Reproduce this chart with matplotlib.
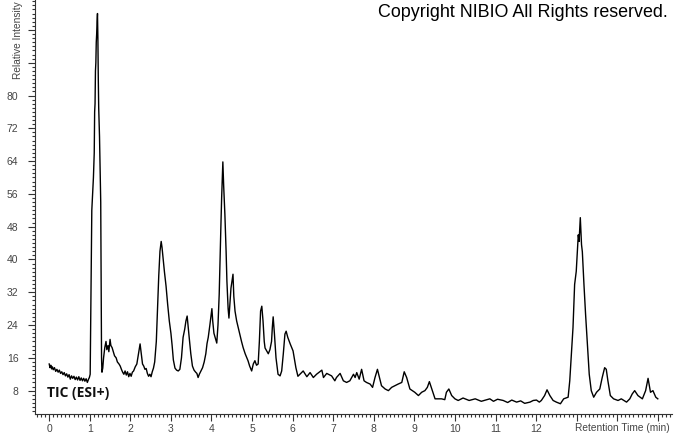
import matplotlib
matplotlib.use("Agg")
import matplotlib.pyplot as plt
from matplotlib.ticker import MultipleLocator, FuncFormatter

# TIC (ESI+) chromatogram
retention_time = [
    0.00, 0.02, 0.04, 0.06, 0.08, 0.10, 0.13, 0.16, 0.19, 0.22, 0.25, 0.28,
    0.31, 0.34, 0.37, 0.40, 0.43, 0.46, 0.49, 0.52, 0.55, 0.58, 0.61, 0.64,
    0.67, 0.70, 0.73, 0.76, 0.79, 0.82, 0.85, 0.88, 0.91, 0.94, 0.97, 0.99,
    1.01, 1.02, 1.03, 1.04, 1.05, 1.07, 1.09, 1.11, 1.12, 1.13, 1.14, 1.15,
    1.16, 1.17, 1.18, 1.19, 1.20, 1.21, 1.22, 1.24, 1.26, 1.27, 1.28, 1.29,
    1.30, 1.32, 1.34, 1.37, 1.40, 1.42, 1.45, 1.47, 1.50, 1.52, 1.55, 1.58,
    1.61, 1.65, 1.68, 1.72, 1.75, 1.78, 1.81, 1.84, 1.87, 1.90, 1.93, 1.96,
    1.99, 2.02, 2.05, 2.08, 2.12, 2.16, 2.20, 2.24, 2.27, 2.30, 2.33, 2.36,
    2.39, 2.42, 2.45, 2.48, 2.51, 2.54, 2.57, 2.60, 2.64, 2.67, 2.70, 2.73,
    2.76, 2.78, 2.81, 2.84, 2.88, 2.92, 2.96, 3.00, 3.03, 3.06, 3.10, 3.14,
    3.18, 3.22, 3.26, 3.30, 3.34, 3.37, 3.40, 3.42, 3.45, 3.49, 3.53, 3.57,
    3.61, 3.64, 3.67, 3.70, 3.74, 3.78, 3.82, 3.86, 3.89, 3.92, 3.94, 3.96,
    3.99, 4.01, 4.03, 4.06, 4.09, 4.13, 4.16, 4.19, 4.21, 4.23, 4.25, 4.27,
    4.28, 4.30, 4.33, 4.36, 4.38, 4.41, 4.43, 4.46, 4.48, 4.51, 4.53, 4.55,
    4.58, 4.62, 4.66, 4.70, 4.74, 4.78, 4.83, 4.87, 4.90, 4.94, 4.99, 5.03,
    5.07, 5.11, 5.15, 5.18, 5.21, 5.24, 5.27, 5.30, 5.32, 5.36, 5.40, 5.44,
    5.48, 5.50, 5.52, 5.55, 5.59, 5.64, 5.69, 5.73, 5.77, 5.81, 5.84, 5.88,
    5.94, 6.01, 6.08, 6.13, 6.18, 6.26, 6.35, 6.43, 6.51, 6.59, 6.72, 6.76,
    6.84, 6.96, 7.04, 7.08, 7.17, 7.25, 7.33, 7.41, 7.50, 7.54, 7.58, 7.64,
    7.70, 7.76, 7.82, 7.91, 7.97, 8.03, 8.09, 8.15, 8.19, 8.28, 8.36, 8.44,
    8.52, 8.60, 8.69, 8.75, 8.81, 8.89, 9.01, 9.10, 9.18, 9.26, 9.32, 9.37,
    9.43, 9.51, 9.59, 9.67, 9.75, 9.79, 9.85, 9.92, 10.00, 10.08, 10.20, 10.35,
    10.50, 10.65, 10.86, 10.95, 11.05, 11.19, 11.30, 11.40, 11.52, 11.62, 11.72, 11.85,
    11.93, 12.01, 12.08, 12.13, 12.21, 12.27, 12.34, 12.42, 12.50, 12.60, 12.68, 12.79,
    12.83, 12.87, 12.91, 12.95, 12.99, 13.04, 13.06, 13.09, 13.12, 13.14, 13.18, 13.22,
    13.26, 13.31, 13.36, 13.42, 13.49, 13.57, 13.63, 13.69, 13.73, 13.77, 13.83, 13.91,
    14.02, 14.10, 14.23, 14.31, 14.37, 14.43, 14.51, 14.62, 14.70, 14.76, 14.82, 14.88,
    14.95, 15.00,
]

intensity = [
    14.5, 13.6, 14.2, 13.3, 13.8, 13.1, 13.6, 12.7, 13.2, 12.5, 13.0, 12.2,
    12.6, 11.9, 12.4, 11.6, 12.1, 11.3, 11.9, 10.8, 11.6, 11.0, 11.5, 10.7,
    11.3, 10.6, 11.4, 10.5, 11.1, 10.4, 11.0, 10.3, 10.9, 10.0, 10.8, 11.2,
    12.0, 22.0, 33.0, 44.0, 52.0, 56.0, 60.0, 66.0, 76.0, 78.0, 86.0, 88.0,
    93.0, 95.0, 98.0, 100.0, 94.0, 84.0, 77.0, 70.0, 60.0, 54.0, 35.0, 16.0,
    12.5, 13.5, 16.0, 18.5, 20.0, 18.0, 19.0, 17.5, 20.5, 19.0, 18.5, 17.5,
    16.5, 16.0, 15.0, 14.5, 14.0, 13.2, 12.5, 12.0, 12.8, 11.8, 12.6, 11.4,
    12.2, 11.5, 12.5, 12.8, 13.8, 14.5, 17.0, 19.4, 17.0, 14.5, 14.0, 13.2,
    13.4, 12.2, 11.5, 12.0, 11.4, 12.6, 13.5, 15.0, 20.0, 28.0, 36.0, 42.0,
    44.4, 43.0, 40.0, 37.0, 33.5, 29.0, 25.0, 22.0, 19.0, 15.5, 13.5, 13.0,
    12.8, 13.2, 16.0, 21.0, 23.0, 25.0, 26.2, 24.0, 21.0, 17.0, 14.0, 13.0,
    12.5, 12.2, 11.2, 12.0, 12.8, 13.6, 15.0, 17.0, 19.5, 21.0, 22.5, 24.0,
    26.5, 28.0, 25.0, 22.0, 21.0, 19.6, 24.0, 31.5, 40.0, 47.5, 55.0, 61.0,
    63.8, 58.0, 51.0, 42.0, 34.7, 28.0, 25.7, 30.0, 33.0, 35.0, 36.4, 31.0,
    27.4, 25.0, 23.3, 21.5, 20.0, 18.5, 17.0, 16.0, 15.3, 14.0, 12.8, 14.5,
    15.3, 14.2, 14.5, 20.0, 27.4, 28.6, 25.0, 20.0, 18.4, 17.7, 17.0, 18.0,
    20.0, 23.5, 26.0, 22.0, 16.0, 12.0, 11.6, 12.8, 17.0, 21.8, 22.5, 21.0,
    19.4, 17.7, 13.6, 11.5, 12.0, 12.8, 11.4, 12.4, 11.2, 12.0, 13.0, 11.2,
    12.2, 11.6, 10.4, 11.2, 12.2, 10.4, 10.0, 10.4, 12.0, 11.2, 12.4, 10.8,
    13.2, 10.4, 10.0, 9.6, 8.8, 11.2, 13.2, 10.8, 9.2, 8.4, 8.0, 8.8,
    9.2, 9.6, 10.0, 12.6, 11.2, 8.4, 7.6, 6.8, 7.6, 8.0, 8.8, 10.2,
    8.4, 6.0, 6.0, 6.0, 5.8, 7.6, 8.4, 6.8, 6.0, 5.6, 6.2, 5.6,
    6.0, 5.4, 6.0, 5.4, 5.9, 5.6, 5.1, 5.7, 5.2, 5.5, 4.9, 5.2,
    5.6, 5.7, 5.2, 5.6, 6.8, 8.2, 6.8, 5.6, 5.2, 4.8, 6.0, 6.4,
    10.4, 16.9, 23.4, 33.9, 37.1, 46.0, 44.4, 50.2, 43.6, 41.9, 33.9, 26.6,
    20.2, 12.0, 8.0, 6.4, 7.6, 8.4, 11.2, 13.6, 13.2, 10.4, 6.8, 6.0,
    5.6, 6.0, 5.2, 6.0, 7.2, 8.0, 6.8, 6.0, 8.0, 11.0, 7.6, 8.0,
    6.4, 6.0,
]

x_major_ticks = list(range(0, 16))
x_labelled = list(range(0, 13))
y_major_ticks = list(range(8, 104, 8))
y_labelled = list(range(8, 81, 8))

W, H = 674, 434


def x_label(v, pos):
    return "%d" % round(v) if round(v) in x_labelled else ""


def y_label(v, pos):
    return "%d" % round(v) if round(v) in y_labelled else ""


def main():
    fig = plt.figure(figsize=(W / 100, H / 100), dpi=100)
    ax = fig.add_axes([35 / W, 1 - 414 / H, (672 - 35) / W, 414 / H])

    ax.plot(retention_time, intensity, color="black", lw=1.0)

    ax.set_xlim(-0.35, 15.35)
    ax.set_ylim(2.3, 103.3)
    ax.spines["top"].set_visible(False)
    ax.spines["right"].set_visible(False)
    for s in ("left", "bottom"):
        ax.spines[s].set_linewidth(0.8)
        ax.spines[s].set_color("#333333")

    ax.set_xticks(x_major_ticks)
    ax.xaxis.set_minor_locator(MultipleLocator(0.1))
    ax.set_yticks(y_major_ticks)
    ax.yaxis.set_minor_locator(MultipleLocator(1))
    ax.xaxis.set_major_formatter(FuncFormatter(x_label))
    ax.yaxis.set_major_formatter(FuncFormatter(y_label))

    ax.tick_params(which="both", direction="out", color="#333333", width=0.8,
                   labelsize=7.5, labelcolor="#444444")
    ax.tick_params(which="major", length=5)
    ax.tick_params(which="minor", length=2.5)
    ax.tick_params(axis="y", which="major", pad=7)
    ax.tick_params(axis="x", which="major", pad=2)
    for lab in ax.get_xticklabels() + ax.get_yticklabels():
        lab.set_family("Liberation Sans")

    # kept just inside the top edge so the whole label stays visible
    fig.text(18 / W, 1 - 1 / H, "Relative Intensity", rotation=90, ha="center", va="top",
             fontsize=7.3, color="#444444", family="Liberation Sans")
    fig.text(670 / W, 1 - 431 / H, "Retention Time (min)", ha="right", va="baseline",
             fontsize=7.3, color="#444444", family="Liberation Sans")
    fig.text(668 / W, 1 - 17 / H, "Copyright NIBIO All Rights reserved.", ha="right",
             va="baseline", fontsize=12.9, color="black", family="Liberation Sans")
    fig.text(47 / W, 1 - 393 / H, "TIC (ESI+)", ha="left", va="center", fontsize=10,
             weight="bold", color="#111111", family=["Open Sans", "DejaVu Sans"])

    fig.savefig("out.png", dpi=100)
    plt.close(fig)


if __name__ == "__main__":
    main()
